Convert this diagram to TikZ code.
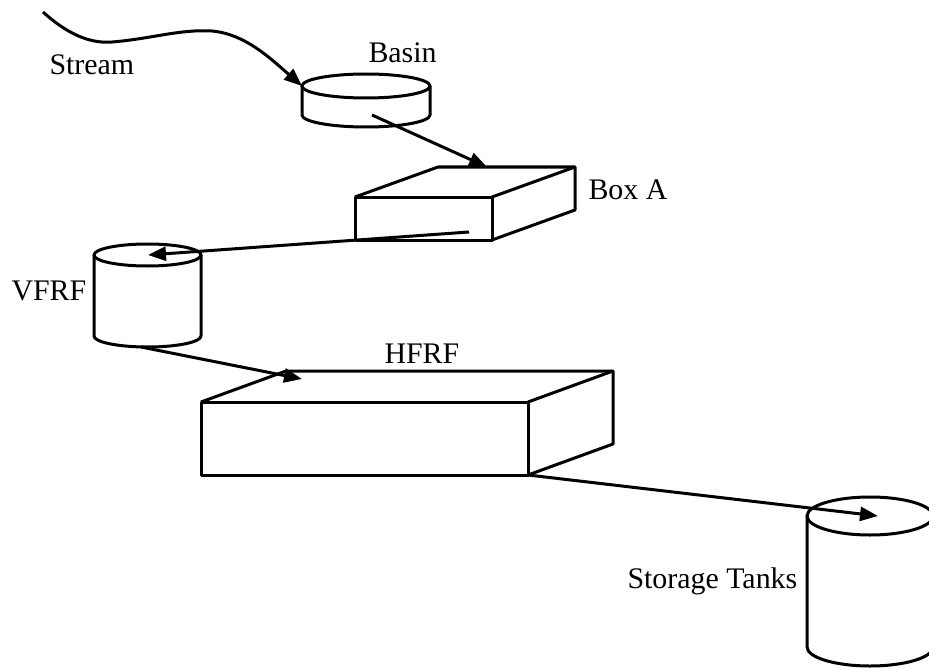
\documentclass[tikz,border=0pt]{standalone}
\usepackage{fontspec}
\setmainfont{Liberation Serif}
\usetikzlibrary{arrows.meta}
\begin{document}
\begin{tikzpicture}[x=1bp,y=-1bp,
  line width=3bp, line join=round,
  flow/.style={-{Triangle[length=18bp,width=14bp]}},
  lbl/.style={font=\fontsize{30}{36}\selectfont, inner sep=0pt, anchor=base west}]
\useasboundingbox (0,0) rectangle (929,669);
\clip (0,0) rectangle (929,669);

% Basin (short cylinder)
\draw (302,86) -- (302,115) arc[start angle=180,end angle=0,x radius=64,y radius=12] -- (430,86);
\draw (366,86) ellipse [x radius=64, y radius=12];

% Box A
\draw (355,197) rectangle (492,240);
\draw (355,197) -- (438,167) -- (575,167) -- (575,210) -- (492,240);
\draw (492,197) -- (575,167);

% VFRF (cylinder)
\draw (94,255) -- (94,336) arc[start angle=180,end angle=0,x radius=53.5,y radius=11] -- (201,255);
\draw (147.5,255) ellipse [x radius=53.5, y radius=11];

% HFRF
\draw (201,402) rectangle (528,475);
\draw (201,402) -- (286,371) -- (613,371) -- (613,444) -- (528,475);
\draw (528,402) -- (613,371);

% Storage tank (cylinder, cut at right edge)
\draw (807,516) -- (807,647) arc[start angle=180,end angle=0,x radius=63,y radius=19] -- (933,516);
\draw (870,516) ellipse [x radius=63, y radius=19];

% Labels
\node[lbl] (stream) at (48,75) {Stream};
\node[lbl] (basin) at (367,63) {Basin};
\node[lbl] (boxa) at (587,199) {Box A};
\node[lbl] (vfrf) at (10,300) {VFRF};
\node[lbl] (hfrf) at (383,363) {HFRF};
\node[lbl] (tanks) at (626,588) {Storage Tanks};

% Connection points
\coordinate (streamStart) at (43,12);
\coordinate (basinIn) at (302,86);
\coordinate (basinOut) at (372,115);
\coordinate (boxAIn) at (487,167);
\coordinate (boxAOut) at (469,232);
\coordinate (vfrfIn) at (148,255);
\coordinate (vfrfOut) at (141,347);
\coordinate (hfrfIn) at (302,379);
\coordinate (hfrfOut) at (528,475);
\coordinate (tankIn) at (878,516);

% Connectors
\draw[flow] (streamStart) .. controls (65,32) and (88,44) .. (112,42)
  .. controls (150,39) and (180,29) .. (212,31)
  .. controls (245,34) and (270,58) .. (basinIn);
\draw[flow] (basinOut) -- (boxAIn);
\draw[flow] (boxAOut) -- (vfrfIn);
\draw[flow] (vfrfOut) -- (hfrfIn);
\draw[flow] (hfrfOut) -- (tankIn);
\end{tikzpicture}
\end{document}
